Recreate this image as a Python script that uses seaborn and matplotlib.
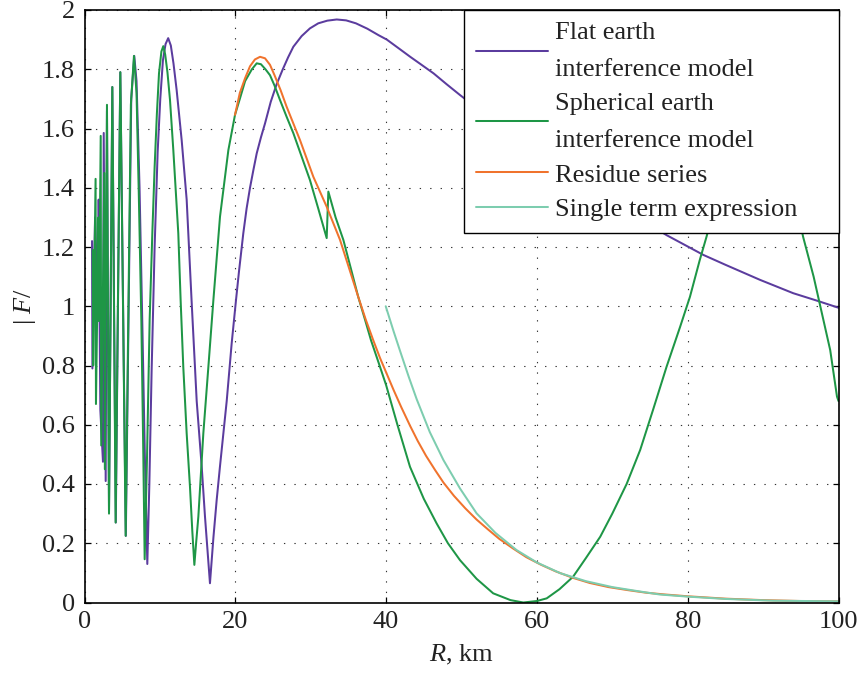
import numpy as np
import pandas as pd
import matplotlib
matplotlib.use("Agg")
import matplotlib.pyplot as plt
import seaborn as sns

# ---------------- data ----------------
flat_R = [1.00, 1.05, 1.40, 1.80, 1.88, 2.10, 2.45, 2.55, 2.81, 2.98, 3.25, 3.69, 4.15, 4.75,
          5.48, 6.20, 6.60, 6.90, 7.30, 7.70, 8.00, 8.33, 8.60, 8.90, 9.30, 9.70, 10.05, 10.40,
          10.75, 11.10, 11.45, 11.80, 12.22, 12.89, 13.55, 14.20, 14.88, 15.54, 15.98, 16.64,
          17.10, 17.53, 17.97, 18.86, 19.52, 20.09, 20.50, 21.06, 21.50, 21.95, 22.40, 22.84,
          23.40, 23.94, 24.70, 25.49, 26.30, 27.00, 27.70, 28.80, 29.90, 31.00, 32.20, 33.45,
          34.70, 36.00, 37.50, 39.00, 40.10, 41.60, 43.20, 44.70, 46.30, 48.00, 49.80, 52.0,
          55.0, 58.0, 61.0, 65.0, 70.0, 74.0, 77.2, 82.1, 85.0, 89.6, 94.0, 97.0, 100.0]
flat_F = [1.22, 0.79, 1.30, 0.99, 1.36, 0.65, 0.475, 1.585, 0.41, 1.66, 0.31, 1.74, 0.27, 1.79,
          0.225, 1.70, 1.845, 1.76, 1.40, 0.90, 0.50, 0.13, 0.40, 0.78, 1.20, 1.52, 1.70, 1.83,
          1.885, 1.905, 1.88, 1.82, 1.73, 1.56, 1.36, 1.02, 0.68, 0.46, 0.29, 0.065,
          0.22, 0.346, 0.46, 0.68, 0.875, 1.02, 1.12, 1.246, 1.33, 1.40, 1.46, 1.516,
          1.57, 1.617, 1.69, 1.75, 1.80, 1.84, 1.876, 1.912, 1.938, 1.955, 1.964, 1.968,
          1.965, 1.955, 1.937, 1.915, 1.900, 1.872, 1.842, 1.815, 1.786, 1.75, 1.713, 1.67,
          1.62, 1.565, 1.515, 1.44, 1.35, 1.29, 1.24, 1.173, 1.14, 1.089, 1.044, 1.02, 0.995]

sph_R = [1.10, 1.15, 1.47, 1.52, 1.85, 1.92, 2.15, 2.22, 2.62, 2.70, 2.98, 3.25, 3.69, 4.13,
         4.75, 5.46, 6.15, 6.56, 6.90, 7.20, 7.54, 7.80, 7.98, 8.30, 8.64, 9.00, 9.30, 9.60,
         9.88, 10.20, 10.45, 10.70, 11.00, 11.34, 11.78, 12.44, 12.75, 13.10, 13.55, 13.99,
         14.30, 14.57, 14.80, 15.10, 15.76, 16.43, 17.09, 17.97, 19.08, 19.96, 20.60, 21.30,
         22.20, 22.84, 23.40, 24.00, 24.60, 25.20, 25.93, 26.80, 27.70, 28.80, 29.90, 31.00,
         32.12, 32.34, 33.30, 34.33, 35.30, 36.30, 37.20, 38.00, 39.00, 40.00, 41.50, 43.17,
         45.00, 46.70, 48.20, 49.80, 52.00, 54.20, 56.50, 58.20, 60.00, 61.30, 63.00, 64.80,
         66.50, 68.40, 70.00, 71.90, 73.70, 75.40, 77.20, 79.00, 80.30, 81.60, 82.50, 84.0,
         86.0, 88.0, 89.5, 91.0, 93.0, 95.30, 96.70, 97.80, 98.90, 99.80, 100.0]
sph_F = [1.19, 0.80, 1.43, 0.67, 1.30, 0.95, 1.575, 0.53, 1.45, 0.45, 1.68, 0.30, 1.74, 0.27,
         1.79, 0.225, 1.68, 1.845, 1.72, 1.38, 0.95, 0.50, 0.146, 0.50, 0.954, 1.25, 1.47, 1.65,
         1.786, 1.86, 1.878, 1.85, 1.79, 1.696, 1.527, 1.246, 1.02, 0.796, 0.571, 0.39,
         0.24, 0.127, 0.20, 0.29, 0.571, 0.796, 1.02, 1.302, 1.527, 1.646, 1.70, 1.76,
         1.80, 1.82, 1.817, 1.80, 1.78, 1.745, 1.696, 1.64, 1.584, 1.505, 1.426, 1.33,
         1.23, 1.387, 1.30, 1.224, 1.13, 1.032, 0.955, 0.885, 0.81, 0.734, 0.60, 0.458,
         0.35, 0.267, 0.20, 0.143, 0.08, 0.031, 0.008, 0.0, 0.005, 0.014, 0.045, 0.087,
         0.15, 0.222, 0.30, 0.40, 0.515, 0.65, 0.796, 0.931, 1.032, 1.156, 1.235, 1.38,
         1.55, 1.68, 1.72, 1.68, 1.52, 1.235, 1.10, 0.976, 0.852, 0.695, 0.68]

res_R = [19.96, 20.60, 21.30, 21.95, 22.60, 23.28, 23.94, 24.60, 25.20, 26.00, 26.80, 28.58,
         30.35, 32.12, 33.89, 36.30, 37.30, 38.30, 39.20, 40.00, 41.00, 42.00, 43.17, 44.20,
         45.30, 46.50, 47.60, 49.00, 50.50, 52.00, 53.50, 55.00, 56.80, 58.60, 60.50, 62.50,
         64.80, 67.00, 69.50, 72.00, 74.50, 77.00, 80.00, 85.00, 90.00, 95.00, 100.0]
res_F = [1.646, 1.72, 1.77, 1.81, 1.833, 1.842, 1.837, 1.815, 1.78, 1.73, 1.674, 1.561,
         1.437, 1.336, 1.224, 1.032, 0.955, 0.885, 0.825, 0.777, 0.717, 0.66, 0.597, 0.545,
         0.495, 0.447, 0.405, 0.36, 0.318, 0.28, 0.247, 0.215, 0.183, 0.153, 0.128, 0.105,
         0.083, 0.066, 0.052, 0.042, 0.033, 0.027, 0.021, 0.013, 0.008, 0.005, 0.004]

single_R = [39.95, 41.00, 41.84, 43.00, 44.06, 45.80, 47.60, 49.80, 52.00, 54.50, 57.30, 60.00,
            63.10, 66.50, 70.00, 73.70, 76.30, 79.90, 85.00, 91.40, 100.0]
single_F = [1.0, 0.915, 0.85, 0.762, 0.686, 0.575, 0.481, 0.385, 0.301, 0.235, 0.177, 0.135,
            0.099, 0.072, 0.052, 0.037, 0.027, 0.02, 0.012, 0.006, 0.004]

labels = ["Flat earth\ninterference model",
          "Spherical earth\ninterference model",
          "Residue series",
          "Single term expression"]
colors = ["#5B3C9E", "#1E9646", "#F0732D", "#7DCDAF"]

x_ticks = [0, 20, 40, 60, 80, 100]
y_ticks = [0, 0.2, 0.4, 0.6, 0.8, 1.0, 1.2, 1.4, 1.6, 1.8, 2.0]

# ---------------- style ----------------
sns.set_theme(style="white")
plt.rcParams["font.family"] = ["Liberation Serif", "DejaVu Serif"]
plt.rcParams["mathtext.fontset"] = "custom"
plt.rcParams["mathtext.rm"] = "Liberation Serif"
plt.rcParams["mathtext.it"] = "Liberation Serif:italic"
FS = 19
LW = 1.45

fig = plt.figure(figsize=(8.59, 6.75), dpi=100)
ax = fig.add_axes([84.5 / 859, 1 - 602.5 / 675, 754 / 859, 592.5 / 675])

series = [(flat_R, flat_F), (sph_R, sph_F), (res_R, res_F), (single_R, single_F)]
for (r, f), lab, col in zip(series, labels, colors):
    df = pd.DataFrame({"R": r, "F": f})
    sns.lineplot(data=df, x="R", y="F", ax=ax, color=col, lw=LW, label=lab,
                 estimator=None, sort=False)

ax.set_xlim(0, 100)
ax.set_ylim(0, 2)
ax.set_xticks(x_ticks)
ax.set_yticks(y_ticks)
ax.set_xticklabels([f"{v:g}" for v in x_ticks])
ax.set_yticklabels([f"{v:g}" for v in y_ticks])
ax.tick_params(axis="both", which="major", direction="in", length=4, width=0.9,
               color="black", labelsize=FS, labelcolor="#222222",
               top=True, right=True, bottom=True, left=True)
ax.tick_params(axis="x", pad=6)
ax.tick_params(axis="y", pad=7)
for s in ax.spines.values():
    s.set_color("black")
    s.set_linewidth(1.2)

ax.grid(True, which="major", color="#333333", linestyle=(0, (1.2, 8.2)), linewidth=0.8)

ax.set_xlabel(r"$R$, km", fontsize=FS, color="#222222")
ax.set_ylabel(r"$|\ F/$", fontsize=FS, color="#222222")
ax.xaxis.set_label_coords(0.5, -0.068)
ax.yaxis.set_label_coords(-0.062, 0.5)

leg = ax.legend(loc="upper left", bbox_to_anchor=(0.503, 0.0, 0.497, 1.0), mode="expand",
                borderaxespad=0.0, fontsize=FS, frameon=True, fancybox=False,
                framealpha=1.0, edgecolor="black", handlelength=2.75,
                handletextpad=0.25, borderpad=0.45, labelspacing=0.43)
leg.get_frame().set_linewidth(1.0)
for t in leg.get_texts():
    t.set_linespacing(1.9)
    t.set_color("#222222")
for h in leg.get_lines():
    h.set_linewidth(LW)

fig.savefig("out.png", dpi=100)
